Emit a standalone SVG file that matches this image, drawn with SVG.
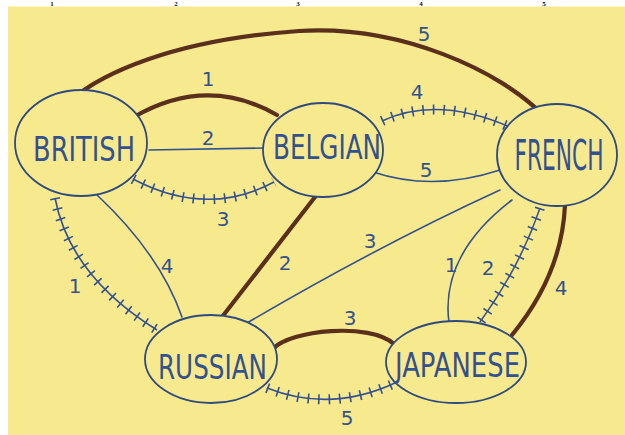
<svg xmlns="http://www.w3.org/2000/svg" width="625" height="435" viewBox="0 0 625 435">
<style>
.ruler{font-family:"Liberation Serif",serif;font-size:7px;font-weight:bold;fill:#111;text-anchor:middle}
.node{fill:#f7e98d;stroke:#2f4a7e;stroke-width:1.8}
.ntext{font-family:"DejaVu Sans","Liberation Sans",sans-serif;font-size:34px;fill:#34518f}
.blue{fill:none;stroke:#34518f;stroke-width:1.6;stroke-linecap:round}
.brown{fill:none;stroke:#5a2f1c;stroke-width:4.2;stroke-linecap:round}
.hatch{fill:none;stroke:#34518f;stroke-width:1.6}
.ticks{fill:none;stroke:#34518f;stroke-width:10;stroke-dasharray:1.6 8.9}
.elabel{font-family:"DejaVu Sans","Liberation Sans",sans-serif;font-size:20px;fill:#34518f;text-anchor:middle}
</style>
<rect x="0" y="0" width="625" height="435" fill="#ffffff"/>
<g id="ruler">
<text class="ruler" x="52" y="6">1</text>
<text class="ruler" x="176" y="6">2</text>
<text class="ruler" x="298" y="6">3</text>
<text class="ruler" x="421" y="6">4</text>
<text class="ruler" x="544" y="6">5</text>
</g>
<rect x="8" y="6.5" width="617" height="428.5" fill="#f7e98d"/>
<g id="connectors">
<path class="brown" d="M71,100 C100,75 170,40 299,31 C400,25 500,70 545,117"/>
<path class="brown" d="M134,117 Q207,75 277,115"/>
<path class="blue" d="M149,150 L265,148"/>
<path class="hatch" d="M133,179 Q207,218 274,182"/>
<path class="ticks" d="M133,179 Q207,218 274,182"/>
<path class="hatch" d="M382,121 Q438,95 512,128"/>
<path class="ticks" d="M382,121 Q438,95 512,128"/>
<path class="blue" d="M373,172 Q433,192 500,170"/>
<path class="hatch" d="M55,198 Q70,276 157,330"/>
<path class="ticks" d="M55,198 Q70,276 157,330"/>
<path class="blue" d="M97,195 Q160,254 182,317"/>
<path class="brown" d="M315,197 L222,317"/>
<path class="blue" d="M500,190 Q380,245 247,323"/>
<path class="brown" d="M273,349 C290,330 370,322 394,344"/>
<path class="hatch" d="M267,388 Q330,413 395,383"/>
<path class="ticks" d="M267,388 Q330,413 395,383"/>
<path class="blue" d="M512,200 Q440,255 449,323"/>
<path class="hatch" d="M540,208 Q520,267 480,322"/>
<path class="ticks" d="M540,208 Q520,267 480,322"/>
<path class="brown" d="M565,205 Q562,274 512,335"/>
<text class="elabel" x="424" y="41">5</text>
<text class="elabel" x="208" y="86">1</text>
<text class="elabel" x="208" y="145" font-size="16">2</text>
<text class="elabel" x="223" y="226" font-size="17">3</text>
<text class="elabel" x="417" y="99" font-size="18">4</text>
<text class="elabel" x="426" y="177">5</text>
<text class="elabel" x="75" y="293">1</text>
<text class="elabel" x="167" y="273">4</text>
<text class="elabel" x="285" y="270">2</text>
<text class="elabel" x="370" y="248">3</text>
<text class="elabel" x="350" y="325" font-size="18">3</text>
<text class="elabel" x="347" y="425">5</text>
<text class="elabel" x="451" y="272">1</text>
<text class="elabel" x="488" y="275">2</text>
<text class="elabel" x="561" y="295">4</text>
</g>
<g id="british">
<ellipse class="node" cx="81" cy="143" rx="66" ry="53"/>
<text class="ntext" x="33" y="161" textLength="102" lengthAdjust="spacingAndGlyphs">BRITISH</text>
</g>
<g id="belgian">
<ellipse class="node" cx="323" cy="150" rx="60" ry="47"/>
<text class="ntext" x="273" y="159" font-size="30" textLength="108" lengthAdjust="spacingAndGlyphs">BELGIAN</text>
</g>
<g id="french">
<ellipse class="node" cx="557" cy="155" rx="60" ry="51"/>
<text class="ntext" transform="translate(559,170) scale(1,1.25)" x="0" y="0" font-size="26" text-anchor="middle" textLength="89" lengthAdjust="spacingAndGlyphs">FRENCH</text>
</g>
<g id="russian">
<ellipse class="node" cx="211" cy="359" rx="66" ry="44"/>
<text class="ntext" x="158" y="379" font-size="32" textLength="109" lengthAdjust="spacingAndGlyphs">RUSSIAN</text>
</g>
<g id="japanese">
<ellipse class="node" cx="456" cy="362" rx="70" ry="41"/>
<text class="ntext" x="395" y="377" font-size="32" textLength="125" lengthAdjust="spacingAndGlyphs">JAPANESE</text>
</g>
</svg>
